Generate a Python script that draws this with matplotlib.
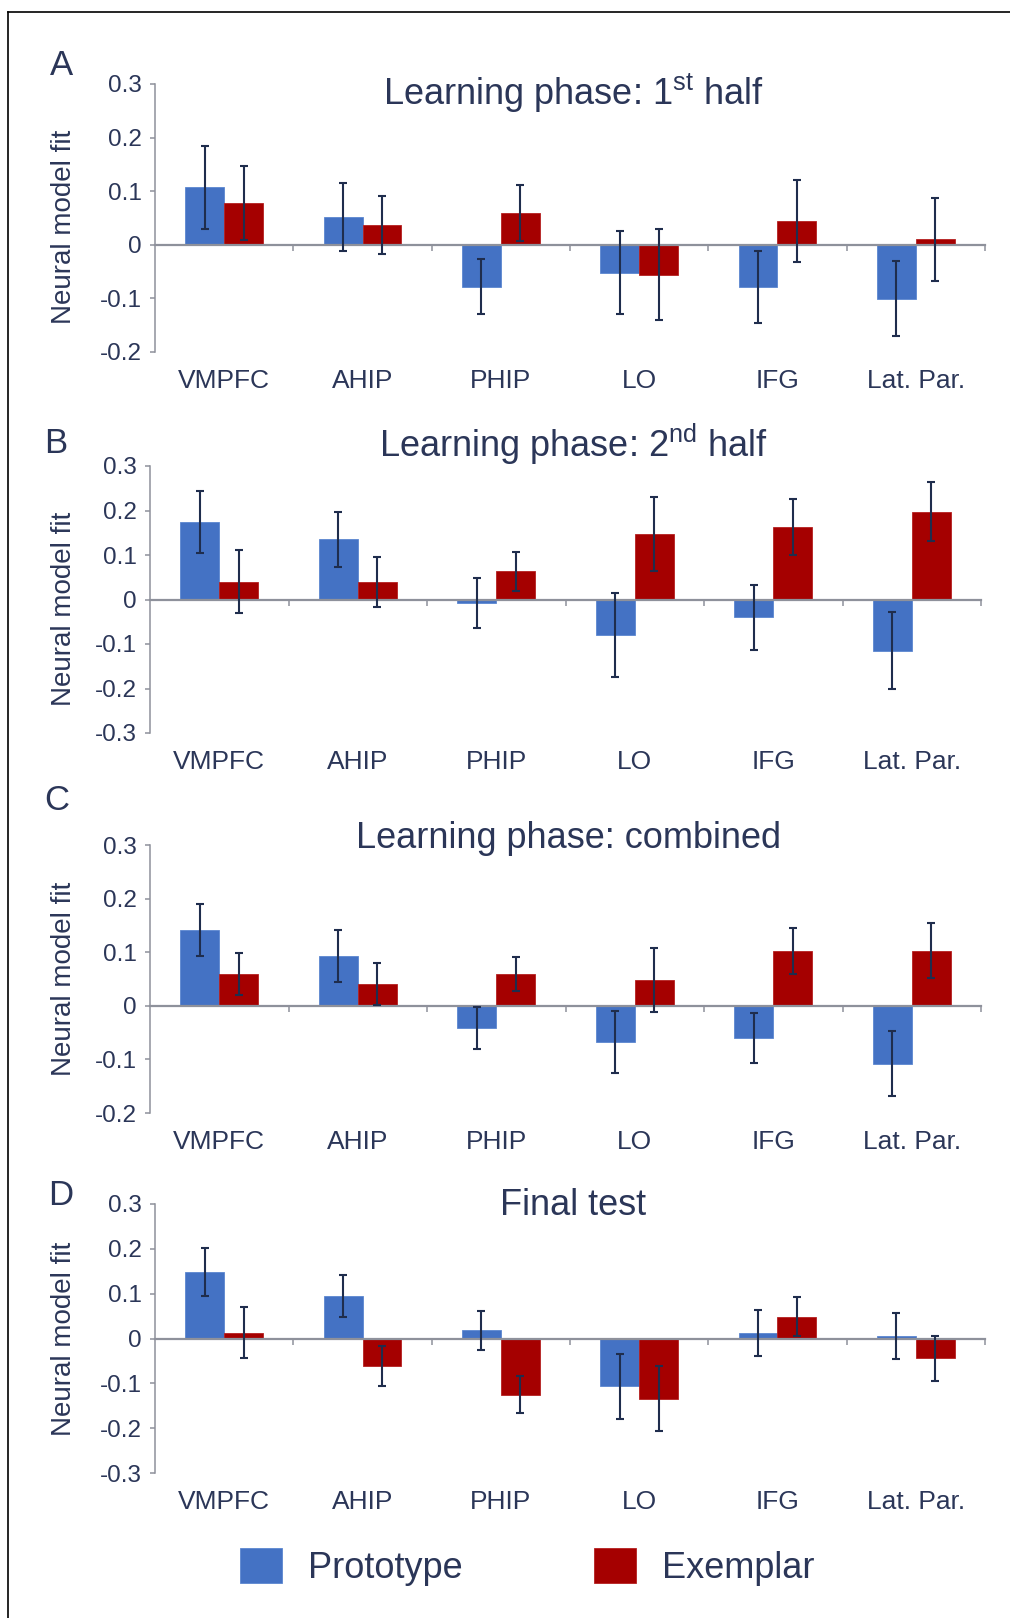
import matplotlib
matplotlib.use('Agg')
import matplotlib.pyplot as plt
from matplotlib.lines import Line2D
from matplotlib.ticker import FuncFormatter
import numpy as np

plt.rcParams['font.family'] = ['Liberation Sans', 'DejaVu Sans']
plt.rcParams['mathtext.fontset'] = 'custom'
plt.rcParams['mathtext.rm'] = 'Liberation Sans'

regions = ['VMPFC', 'AHIP', 'PHIP', 'LO', 'IFG', 'Lat. Par.']
panel_letters = ['A', 'B', 'C', 'D']
titles = ['Learning phase: 1$^{\\rm st}$ half',
          'Learning phase: 2$^{\\rm nd}$ half',
          'Learning phase: combined',
          'Final test']

# wartosci
proto_A = [0.107, 0.052, -0.078, -0.052, -0.078, -0.101]
proto_A_err = [0.077, 0.064, 0.051, 0.078, 0.067, 0.070]
exem_A = [0.078, 0.037, 0.059, -0.056, 0.044, 0.010]
exem_A_err = [0.069, 0.054, 0.052, 0.085, 0.077, 0.078]

proto_B = [0.174, 0.135, -0.008, -0.080, -0.040, -0.115]
proto_B_err = [0.069, 0.061, 0.057, 0.095, 0.073, 0.086]
exem_B = [0.040, 0.040, 0.063, 0.148, 0.162, 0.197]
exem_B_err = [0.071, 0.056, 0.043, 0.083, 0.063, 0.066]

proto_C = [0.141, 0.093, -0.041, -0.067, -0.060, -0.108]
proto_C_err = [0.049, 0.049, 0.039, 0.058, 0.047, 0.061]
exem_C = [0.059, 0.040, 0.059, 0.048, 0.103, 0.103]
exem_C_err = [0.039, 0.039, 0.032, 0.060, 0.043, 0.051]

proto_D = [0.148, 0.094, 0.018, -0.107, 0.013, 0.005]
proto_D_err = [0.053, 0.047, 0.043, 0.073, 0.051, 0.051]
exem_D = [0.013, -0.062, -0.125, -0.134, 0.049, -0.044]
exem_D_err = [0.057, 0.045, 0.042, 0.073, 0.044, 0.050]

ylims = [(-0.2, 0.3), (-0.3, 0.3), (-0.2, 0.3), (-0.3, 0.3)]

W, H = 1010, 1618
# pozycje osi w pikselach: lewo, prawo, gora, dol
boxes = [(155, 985, 84, 352), (150, 981, 466, 733),
         (150, 981, 845, 1113), (155, 985, 1204, 1473)]
title_y = [105, 457, 848, 1215]
title_x = [573, 574, 568, 573]
letter_pos = [(50, 75), (44, 453), (44, 810), (48, 1205)]
ylabel_y = [227, 609, 979, 1339]

blue = '#4472C4'
red = '#A50000'
navy = '#2b3658'
errc = '#1f2d4d'
grey = '#8e919b'

data = [(proto_A, proto_A_err, exem_A, exem_A_err),
        (proto_B, proto_B_err, exem_B, exem_B_err),
        (proto_C, proto_C_err, exem_C, exem_C_err),
        (proto_D, proto_D_err, exem_D, exem_D_err)]

fig = plt.figure(figsize=(W/100, H/100), dpi=100)
x = np.arange(len(regions))
bw = 0.28


def fmt(v, pos):
    if abs(v) < 1e-9:
        return '0'
    return '%.1f' % v


for k in range(4):
    l, r, t, b = boxes[k]
    ax = fig.add_axes([l/W, 1-b/H, (r-l)/W, (b-t)/H])
    p, pe, e, ee = data[k]
    bp = ax.bar(x-bw/2, p, bw, color=blue, edgecolor='#5b86d0', linewidth=0.6, zorder=2)
    be = ax.bar(x+bw/2, e, bw, color=red, edgecolor='#b52020', linewidth=0.6, zorder=2)
    ax.errorbar(x-bw/2, p, yerr=pe, fmt='none', ecolor=errc, elinewidth=1.5,
                capsize=3.2, capthick=1.5, zorder=3)
    ax.errorbar(x+bw/2, e, yerr=ee, fmt='none', ecolor=errc, elinewidth=1.5,
                capsize=3.2, capthick=1.5, zorder=3)
    ax.set_xlim(-0.5, 5.5)
    ax.set_ylim(ylims[k])
    ax.set_yticks(np.arange(ylims[k][0], ylims[k][1]+0.01, 0.1))
    ax.yaxis.set_major_formatter(FuncFormatter(fmt))
    ax.spines['top'].set_visible(False)
    ax.spines['right'].set_visible(False)
    ax.spines['bottom'].set_position(('data', 0))
    ax.spines['bottom'].set_color(grey)
    ax.spines['bottom'].set_linewidth(1.6)
    ax.spines['left'].set_color(grey)
    ax.spines['left'].set_linewidth(1.1)
    ax.patch.set_visible(False)
    ax.tick_params(axis='y', direction='out', length=3.6, width=1.1, color=grey,
                   labelsize=17.5, labelcolor=navy, pad=6)
    ax.set_xticks([])
    ax.set_xticks(np.arange(0.5, 6, 1.0), minor=True)
    ax.tick_params(axis='x', which='minor', direction='out', length=4.5, width=1.1,
                   color=grey, labelbottom=False)
    for i in range(len(regions)):
        ax.annotate(regions[i], (x[i], 0), xycoords=('data', 'axes fraction'),
                    xytext=(0, -12), textcoords='offset points', ha='center', va='top',
                    fontsize=19, color=navy)
    fig.text(title_x[k]/W, 1-title_y[k]/H, titles[k], ha='center', va='baseline',
             fontsize=26, color=navy)
    fig.text(letter_pos[k][0]/W, 1-letter_pos[k][1]/H, panel_letters[k], ha='left',
             va='baseline', fontsize=25, color=navy)
    fig.text(64/W, 1-ylabel_y[k]/H, 'Neural model fit', rotation=90, ha='center',
             va='center', fontsize=20, color=navy)

fig.legend([bp, be], ['Prototype', 'Exemplar'], loc='center left',
           bbox_to_anchor=(240/W, 1-1567/H), ncol=2, frameon=False, fontsize=26,
           handlelength=1.16, handleheight=1.13, handletextpad=0.72,
           columnspacing=3.65, borderpad=0, borderaxespad=0, labelcolor=navy)

# ramka (tylko gora i lewa strona)
fig.add_artist(Line2D([7.5/W, 7.5/W], [0, 1-11.5/H], color='black', linewidth=1.2))
fig.add_artist(Line2D([7.5/W, 1], [1-11.5/H, 1-11.5/H], color='black', linewidth=1.2))

plt.savefig('out.png', dpi=100)
